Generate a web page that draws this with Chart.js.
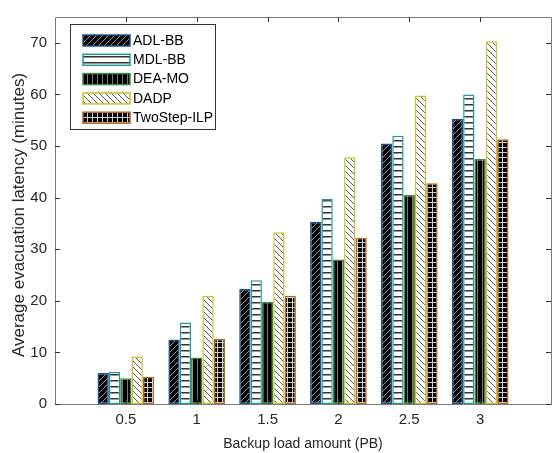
<!DOCTYPE html>
<html>
<head>
<meta charset="utf-8">
<script src="https://cdn.jsdelivr.net/npm/chart.js@4/dist/chart.umd.min.js"></script>
<style>
  html, body { margin: 0; padding: 0; background: #fff; }
  #wrap { width: 552px; height: 453px; position: relative; }
</style>
</head>
<body>
<div id="wrap"><canvas id="chart"></canvas></div>
<script>
// backup load (PB) on the x axis
var loads = [0.5, 1, 1.5, 2, 2.5, 3];

// average evacuation latency (minutes), one list per method
var adlBB      = [6.0, 12.5, 22.3, 35.3, 50.5, 55.3];
var mdlBB      = [6.2, 15.8, 24.0, 39.8, 52.0, 60.0];
var deaMO      = [5.0,  9.0, 19.8, 28.0, 40.5, 47.5];
var dadp       = [9.2, 21.0, 33.3, 47.8, 59.8, 70.3];
var twoStepILP = [5.3, 12.6, 21.0, 32.2, 42.8, 51.3];

var seriesNames = ['ADL-BB', 'MDL-BB', 'DEA-MO', 'DADP', 'TwoStep-ILP'];
var yTicks = [0, 10, 20, 30, 40, 50, 60, 70];

var FONT = '"Liberation Sans", Arial, sans-serif';
var TEXT = '#262626';
var AXIS = '#7a7a7a';

// hatch fills, built on small tiles
function makePattern(size, bg, draw) {
  var c = document.createElement('canvas');
  c.width = size; c.height = size;
  var g = c.getContext('2d');
  g.fillStyle = bg;
  g.fillRect(0, 0, size, size);
  draw(g, size);
  return document.createElement('canvas').getContext('2d').createPattern(c, 'repeat');
}

var patFwd = makePattern(6, '#000', function (g, s) {
  g.strokeStyle = '#9a9a9a'; g.lineWidth = 1;
  g.beginPath();
  g.moveTo(0, s); g.lineTo(s, 0);
  g.moveTo(-1, 1); g.lineTo(1, -1);
  g.moveTo(s - 1, s + 1); g.lineTo(s + 1, s - 1);
  g.stroke();
});
var patHoriz = makePattern(6, '#fff', function (g, s) {
  g.fillStyle = '#333';
  g.fillRect(0, 2, s, 1.5);
});
var patVert = makePattern(5, '#000', function (g, s) {
  g.fillStyle = '#7a7a7a';
  g.fillRect(2, 0, 1, s);
});
var patBack = makePattern(6, '#fff', function (g, s) {
  g.strokeStyle = '#555'; g.lineWidth = 1;
  g.beginPath();
  g.moveTo(0, 0); g.lineTo(s, s);
  g.moveTo(s - 1, -1); g.lineTo(s + 1, 1);
  g.moveTo(-1, s - 1); g.lineTo(1, s + 1);
  g.stroke();
});
var patGrid = makePattern(5, '#000', function (g, s) {
  g.fillStyle = '#d0d0d0';
  g.fillRect(2, 0, 1, s);
  g.fillRect(0, 2, s, 1);
});

function pts(vals) {
  return vals.map(function (v, i) { return { x: loads[i], y: v }; });
}

var allValues = [adlBB, mdlBB, deaMO, dadp, twoStepILP];
var fills = [patFwd, patHoriz, patVert, patBack, patGrid];
var edges = ['#1c4f8f', '#1f9a9a', '#3d8a3d', '#c9c12a', '#b5651d'];

var datasets = seriesNames.map(function (name, i) {
  return {
    label: name,
    data: pts(allValues[i]),
    backgroundColor: fills[i],
    borderColor: edges[i],
    borderWidth: 1.5,
    borderSkipped: false,
    categoryPercentage: 0.8,
    barPercentage: 1.0
  };
});

// box legend in the upper left, y title, and the inward tick marks of the frame
var frameAndLegend = {
  id: 'frameAndLegend',
  afterDraw: function (chart) {
    var ctx = chart.ctx;
    var a = chart.chartArea;
    var xs = chart.scales.x, ys = chart.scales.y;
    ctx.save();
    ctx.strokeStyle = AXIS;
    ctx.lineWidth = 1;
    ctx.beginPath();
    ctx.rect(Math.round(a.left) + 0.5, Math.round(a.top) + 0.5,
             Math.round(a.right - a.left), Math.round(a.bottom - a.top));
    ctx.stroke();
    ctx.strokeStyle = '#333';
    ctx.beginPath();
    loads.forEach(function (v) {
      var px = Math.round(xs.getPixelForValue(v)) + 0.5;
      ctx.moveTo(px, a.bottom); ctx.lineTo(px, a.bottom - 5);
      ctx.moveTo(px, a.top); ctx.lineTo(px, a.top + 5);
    });
    yTicks.forEach(function (v) {
      var py = Math.round(ys.getPixelForValue(v)) + 0.5;
      ctx.moveTo(a.left, py); ctx.lineTo(a.left + 5, py);
      ctx.moveTo(a.right, py); ctx.lineTo(a.right - 5, py);
    });
    ctx.stroke();

    // y title, a bit larger than the other text like in the source
    ctx.save();
    ctx.translate(19, 215);
    ctx.rotate(-Math.PI / 2);
    ctx.font = '17px ' + FONT;
    ctx.fillStyle = TEXT;
    ctx.textAlign = 'center';
    ctx.textBaseline = 'middle';
    ctx.fillText('Average evacuation latency (minutes)', 0, 0);
    ctx.restore();

    // legend
    var lx = 70, ly = 24, lw = 145, lh = 105;
    ctx.fillStyle = '#fff';
    ctx.fillRect(lx, ly, lw, lh);
    ctx.strokeStyle = '#333';
    ctx.lineWidth = 1;
    ctx.strokeRect(lx + 0.5, ly + 0.5, lw, lh);
    ctx.font = '14px ' + FONT;
    ctx.textBaseline = 'middle';
    chart.data.datasets.forEach(function (ds, i) {
      var cy = 40 + i * 19.3;
      ctx.fillStyle = ds.backgroundColor;
      ctx.fillRect(83, cy - 5, 47, 11);
      ctx.strokeStyle = ds.borderColor;
      ctx.lineWidth = 1.5;
      ctx.strokeRect(83, cy - 5, 47, 11);
      ctx.fillStyle = '#000';
      ctx.fillText(ds.label, 133, cy + 1);
    });
    ctx.restore();
  }
};

new Chart(document.getElementById('chart'), {
  type: 'bar',
  data: { datasets: datasets },
  options: {
    responsive: true,
    maintainAspectRatio: false,
    animation: false,
    layout: { padding: { top: 11, right: 1, left: 0, bottom: 0 } },
    plugins: { legend: { display: false }, tooltip: { enabled: false } },
    scales: {
      x: {
        type: 'linear',
        min: 0, max: 3.5,
        offset: false,
        grid: { display: false, offset: false, drawTicks: false },
        border: { display: false },
        afterFit: function (s) { s.height = 49; },
        afterBuildTicks: function (s) {
          s.ticks = loads.map(function (v) { return { value: v }; });
        },
        ticks: {
          padding: 7, color: TEXT, maxRotation: 0,
          font: { family: FONT, size: 15 },
          callback: function (v) { return String(v); }
        },
        title: {
          display: true, text: 'Backup load amount (PB)', color: TEXT,
          font: { family: FONT, size: 14 }, padding: { top: 1, bottom: 0 }
        }
      },
      y: {
        min: 0, max: 75,
        grid: { display: false, drawTicks: false },
        border: { display: false },
        afterFit: function (s) { s.width = 55; },
        afterBuildTicks: function (s) {
          s.ticks = yTicks.map(function (v) { return { value: v }; });
        },
        ticks: { padding: 8, color: TEXT, font: { family: FONT, size: 15 } }
      }
    }
  },
  plugins: [frameAndLegend]
});
</script>
</body>
</html>
